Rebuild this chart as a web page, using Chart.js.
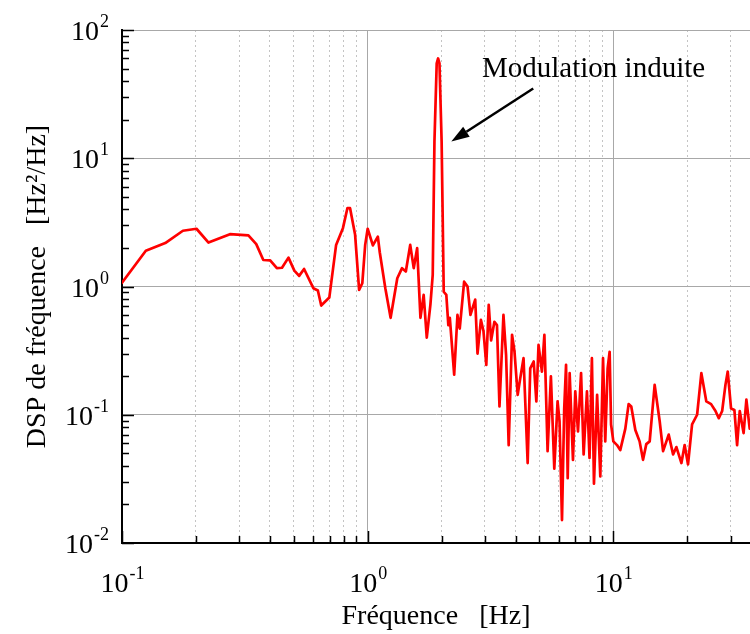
<!DOCTYPE html>
<html>
<head>
<meta charset="utf-8">
<script src="https://cdn.jsdelivr.net/npm/chart.js@4.4.1/dist/chart.umd.min.js"></script>
<style>
  body { margin: 0; background: #fff; }
  #wrap { width: 750px; height: 634px; position: relative; }
</style>
</head>
<body>
<div id="wrap"><canvas id="dsp-chart"></canvas></div>
<script>
// frequency axis (Hz) and spectral density (Hz^2/Hz)
const freq_hz = [
  0.100, 0.125, 0.150, 0.177, 0.201, 0.225, 0.275, 0.327, 0.352, 0.376,
  0.401, 0.427, 0.448, 0.476, 0.503, 0.526, 0.551, 0.601, 0.627, 0.647,
  0.698, 0.744, 0.793, 0.827, 0.848, 0.889, 0.923, 0.951, 0.977, 1.00,
  1.05, 1.10, 1.12, 1.18, 1.24, 1.32, 1.38, 1.43, 1.49, 1.54,
  1.59, 1.64, 1.69, 1.74, 1.80, 1.84, 1.87, 1.91, 1.935, 1.96, 2.00,
  2.04, 2.09, 2.13, 2.16, 2.25, 2.32, 2.37, 2.47, 2.55, 2.62,
  2.74, 2.80, 2.89, 2.96, 3.04, 3.11, 3.18, 3.28, 3.36, 3.44,
  3.57, 3.66, 3.75, 3.87, 3.96, 4.08, 4.18, 4.31, 4.48, 4.59,
  4.74, 4.86, 4.96, 5.12, 5.24, 5.40, 5.57, 5.75, 5.93, 6.04,
  6.18, 6.31, 6.42, 6.52, 6.64, 6.85, 7.00, 7.18, 7.39, 7.57,
  7.81, 8.00, 8.18, 8.34, 8.59, 8.85, 9.08, 9.27, 9.48, 9.66,
  9.79, 10.0, 10.35, 10.67, 11.19, 11.54, 11.83, 12.29, 12.79, 13.21,
  13.62, 14.06, 14.73, 15.44, 15.94, 16.80, 17.51, 18.06, 18.93, 19.51,
  20.14, 20.92, 21.93, 22.82, 23.91, 25.0, 26.05, 26.87, 27.73, 28.6,
  29.22, 30.14, 31.1, 31.9, 32.7, 33.9, 34.8, 35.9
];
const dsp = [
  1.07, 1.90, 2.18, 2.72, 2.82, 2.20, 2.56, 2.50, 2.14, 1.61,
  1.60, 1.39, 1.40, 1.68, 1.33, 1.21, 1.37, 0.97, 0.93, 0.71,
  0.82, 2.11, 2.85, 4.08, 4.08, 2.53, 0.94, 1.06, 2.11, 2.82,
  2.09, 2.45, 1.85, 0.97, 0.57, 1.16, 1.39, 1.31, 2.11, 1.39,
  1.99, 0.57, 0.86, 0.40, 0.72, 1.23, 13.5, 55.0, 60.0, 55.0, 13.5,
  0.91, 0.86, 0.50, 0.57, 0.205, 0.60, 0.47, 1.09, 1.00, 0.60,
  0.79, 0.30, 0.55, 0.45, 0.245, 0.72, 0.38, 0.53, 0.50, 0.116,
  0.60, 0.29, 0.058, 0.42, 0.31, 0.143, 0.193, 0.276, 0.042, 0.23,
  0.26, 0.127, 0.35, 0.217, 0.42, 0.052, 0.199, 0.038, 0.127, 0.089,
  0.0151, 0.112, 0.245, 0.032, 0.211, 0.0445, 0.152, 0.074, 0.211, 0.049,
  0.152, 0.046, 0.276, 0.029, 0.143, 0.033, 0.276, 0.062, 0.23, 0.31,
  0.084, 0.062, 0.058, 0.053, 0.078, 0.121, 0.116, 0.076, 0.062, 0.0445,
  0.059, 0.062, 0.171, 0.089, 0.052, 0.070, 0.049, 0.056, 0.042, 0.058,
  0.041, 0.084, 0.10, 0.211, 0.127, 0.121, 0.107, 0.094, 0.107, 0.171,
  0.217, 0.112, 0.109, 0.058, 0.107, 0.072, 0.131, 0.078
];

// decades that get a "10^n" label
const x_decades = [0.1, 1, 10];
const y_decades = [0.01, 0.1, 1, 10, 100];

// annotation, in data units
const note_text = "Modulation induite";
const note_text_at = [2.92, 43];
const arrow_from = [4.72, 35];
const arrow_to = [2.19, 13.5];

const SERIF = '"Liberation Serif", "Times New Roman", serif';

function tickKind(v) {
  if (v === undefined || v <= 0) return null;
  const e = Math.floor(Math.log10(v) + 1e-9);
  const m = v / Math.pow(10, e);
  if (Math.abs(m - 1) < 1e-6) return 'major';
  if (Math.abs(m - Math.round(m)) < 1e-6) return 'minor';
  return null;
}

function drawPower(ctx, value, x, y, align) {
  const base = '10';
  const exp = String(Math.round(Math.log10(value)));
  ctx.font = '28px ' + SERIF;
  const wb = ctx.measureText(base).width;
  ctx.font = '18px ' + SERIF;
  const we = ctx.measureText(exp).width;
  const left = align === 'center' ? x - (wb + we) / 2 : x - wb - we;
  ctx.textAlign = 'left';
  ctx.textBaseline = 'alphabetic';
  ctx.font = '28px ' + SERIF;
  ctx.fillText(base, left, y);
  ctx.font = '18px ' + SERIF;
  ctx.fillText(exp, left + wb + 1, y - 13);
}

const axisDecor = {
  id: 'axisDecor',
  afterDraw(chart) {
    const {ctx, chartArea: a, scales: {x, y}} = chart;
    ctx.save();
    // inward tick marks
    ctx.strokeStyle = '#000';
    ctx.lineWidth = 1.5;
    ctx.beginPath();
    x.ticks.forEach(t => {
      const kind = tickKind(t.value);
      if (!kind) return;
      const px = Math.round(x.getPixelForValue(t.value)) + 0.5;
      ctx.moveTo(px, a.bottom);
      ctx.lineTo(px, a.bottom - (kind === 'major' ? 12 : 7));
    });
    y.ticks.forEach(t => {
      const kind = tickKind(t.value);
      if (!kind) return;
      const py = Math.round(y.getPixelForValue(t.value)) + 0.5;
      ctx.moveTo(a.left, py);
      ctx.lineTo(a.left + (kind === 'major' ? 12 : 7), py);
    });
    ctx.stroke();

    // decade labels
    ctx.fillStyle = '#000';
    x_decades.forEach(v => drawPower(ctx, v, x.getPixelForValue(v), a.bottom + 49, 'center'));
    y_decades.forEach(v => drawPower(ctx, v, a.left - 14, y.getPixelForValue(v) + 10, 'right'));

    // annotation
    ctx.font = '29px ' + SERIF;
    ctx.textAlign = 'left';
    ctx.textBaseline = 'alphabetic';
    ctx.fillText(note_text, x.getPixelForValue(note_text_at[0]), y.getPixelForValue(note_text_at[1]));

    const x0 = x.getPixelForValue(arrow_from[0]), y0 = y.getPixelForValue(arrow_from[1]);
    const x1 = x.getPixelForValue(arrow_to[0]), y1 = y.getPixelForValue(arrow_to[1]);
    const ang = Math.atan2(y1 - y0, x1 - x0);
    const headLen = 18, headW = 6;
    const bx = x1 - headLen * Math.cos(ang), by = y1 - headLen * Math.sin(ang);
    ctx.lineWidth = 2.5;
    ctx.beginPath();
    ctx.moveTo(x0, y0);
    ctx.lineTo(bx, by);
    ctx.stroke();
    ctx.beginPath();
    ctx.moveTo(x1, y1);
    ctx.lineTo(bx + headW * Math.sin(ang), by - headW * Math.cos(ang));
    ctx.lineTo(bx - headW * Math.sin(ang), by + headW * Math.cos(ang));
    ctx.closePath();
    ctx.fill();
    ctx.restore();
  }
};

function gridColor(ctx, minorColor) {
  const kind = tickKind(ctx.tick && ctx.tick.value);
  if (kind === 'major') return '#a8a8a8';
  if (kind === 'minor') return minorColor;
  return 'rgba(0,0,0,0)';
}

const chart = new Chart(document.getElementById('dsp-chart'), {
  type: 'line',
  data: {
    datasets: [{
      data: freq_hz.map((f, i) => ({x: f, y: dsp[i]})),
      borderColor: '#ff0000',
      borderWidth: 2.7,
      borderJoinStyle: 'round',
      borderCapStyle: 'round',
      pointRadius: 0,
      tension: 0,
      fill: false
    }]
  },
  options: {
    responsive: true,
    maintainAspectRatio: false,
    animation: false,
    events: [],
    layout: { padding: { left: 0, right: 0, top: 30, bottom: 0 } },
    plugins: { legend: { display: false }, tooltip: { enabled: false } },
    scales: {
      x: {
        type: 'logarithmic',
        min: 0.1,
        max: 36,
        ticks: { display: false },
        grid: {
          drawTicks: false,
          lineWidth: 1,
          color: c => gridColor(c, '#c4c4c4')
        },
        border: {
          color: '#000',
          width: 2,
          dash: c => tickKind(c.tick && c.tick.value) === 'minor' ? [2, 3] : []
        },
        title: {
          display: true,
          text: 'Fréquence   [Hz]',
          color: '#000',
          font: { family: SERIF, size: 28, weight: 'normal' },
          padding: { top: 56.4, bottom: 1 }
        }
      },
      y: {
        type: 'logarithmic',
        min: 0.01,
        max: 100,
        ticks: { display: false },
        grid: {
          drawTicks: false,
          lineWidth: 1,
          color: c => gridColor(c, 'rgba(0,0,0,0)')
        },
        border: { color: '#000', width: 2 },
        title: {
          display: true,
          text: 'DSP de fréquence   [Hz²/Hz]',
          color: '#000',
          font: { family: SERIF, size: 28, weight: 'normal' },
          padding: { top: 21.2, bottom: 67.2 }
        }
      }
    }
  },
  plugins: [axisDecor]
});
</script>
</body>
</html>
